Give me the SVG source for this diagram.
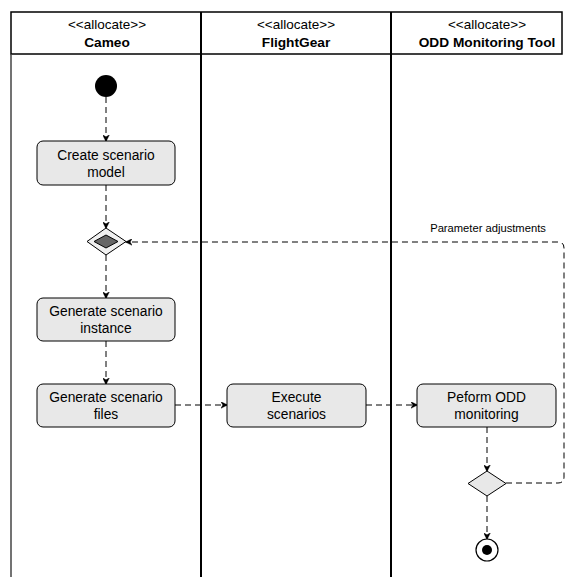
<svg xmlns="http://www.w3.org/2000/svg" width="571" height="577" viewBox="0 0 571 577">
  <style>
    .lane { stroke: #000; stroke-width: 2; fill: none; }
    .hdr { fill: #fff; stroke: #000; stroke-width: 1.5; }
    .stereo { font-family: "Liberation Sans", Arial, sans-serif; font-size: 13.5px; text-anchor: middle; fill: #000; }
    .name { font-family: "Liberation Sans", Arial, sans-serif; font-size: 13.7px; font-weight: bold; text-anchor: middle; fill: #000; }
    .act rect { fill: #e8e8e8; stroke: #000; stroke-width: 1; }
    .act text { font-family: "Liberation Sans", Arial, sans-serif; font-size: 13.8px; text-anchor: middle; fill: #000; }
    .flow { stroke: #000; stroke-width: 1; fill: none; stroke-dasharray: 6 4; marker-end: url(#arrow); }
    .lbl { font-family: "Liberation Sans", Arial, sans-serif; font-size: 11.2px; text-anchor: middle; fill: #000; }
  </style>
  <defs>
    <marker id="arrow" viewBox="0 0 10 10" refX="9" refY="5" markerWidth="7" markerHeight="7" orient="auto" markerUnits="userSpaceOnUse">
      <path d="M0,0 L10,5 L0,10 L3,5 Z" fill="#000" stroke="#000" stroke-width="0.5"/>
    </marker>
  </defs>
  <rect width="571" height="577" fill="#fff"/>

  <!-- swimlanes -->
  <g id="lanes">
    <rect class="hdr" x="11" y="12" width="551" height="42"/>
    <line class="lane" x1="201" y1="12" x2="201" y2="577"/>
    <line class="lane" x1="391" y1="12" x2="391" y2="577"/>
    <line x1="11" y1="54" x2="11" y2="577" stroke="#444" stroke-width="1.5"/>
    <text class="stereo" x="107" y="29">&lt;&lt;allocate&gt;&gt;</text>
    <text class="name" x="107" y="47">Cameo</text>
    <text class="stereo" x="296" y="29">&lt;&lt;allocate&gt;&gt;</text>
    <text class="name" x="296" y="47">FlightGear</text>
    <text class="stereo" x="487" y="29">&lt;&lt;allocate&gt;&gt;</text>
    <text class="name" x="487" y="47">ODD Monitoring Tool</text>
  </g>

  <!-- connectors -->
  <g id="connectors">
    <line class="flow" x1="106" y1="97" x2="106" y2="141"/>
    <line class="flow" x1="106" y1="185" x2="106" y2="228"/>
    <line class="flow" x1="106" y1="255" x2="106" y2="298"/>
    <line class="flow" x1="106" y1="341" x2="106" y2="384"/>
    <line class="flow" x1="175" y1="405" x2="227" y2="405"/>
    <line class="flow" x1="366" y1="405" x2="417" y2="405"/>
    <line class="flow" x1="487" y1="427" x2="487" y2="471"/>
    <line class="flow" x1="487" y1="496" x2="487" y2="539"/>
    <path class="flow" d="M506,483 L558,483 Q564,483 564,477 L564,248 Q564,242 558,242 L126,242"/>
    <text class="lbl" x="488" y="232">Parameter adjustments</text>
  </g>

  <!-- nodes -->
  <g id="start">
    <circle cx="106" cy="86" r="11" fill="#000"/>
  </g>
  <g id="create-model" class="act">
    <rect x="37" y="141" width="138" height="44" rx="6"/>
    <text x="106" y="159.5">Create scenario</text>
    <text x="106" y="176.5">model</text>
  </g>
  <g id="merge">
    <polygon points="106,228 126,241.5 106,255 87,241.5" fill="#f0f0f0" stroke="#000" stroke-width="1"/>
    <polygon points="106,235 118,241.5 106,248 94,241.5" fill="#666" stroke="#000" stroke-width="1"/>
  </g>
  <g id="gen-instance" class="act">
    <rect x="37" y="298" width="138" height="43" rx="6"/>
    <text x="106" y="316">Generate scenario</text>
    <text x="106" y="333">instance</text>
  </g>
  <g id="gen-files" class="act">
    <rect x="37" y="384" width="138" height="43" rx="6"/>
    <text x="106" y="402">Generate scenario</text>
    <text x="106" y="419">files</text>
  </g>
  <g id="execute" class="act">
    <rect x="227" y="384" width="139" height="43" rx="6"/>
    <text x="296.5" y="402">Execute</text>
    <text x="296.5" y="419">scenarios</text>
  </g>
  <g id="monitor" class="act">
    <rect x="417" y="384" width="139" height="43" rx="6"/>
    <text x="486.5" y="402">Peform ODD</text>
    <text x="486.5" y="419">monitoring</text>
  </g>
  <g id="decision">
    <polygon points="487,471 506,483.5 487,496 468,483.5" fill="#e8e8e8" stroke="#000" stroke-width="1"/>
  </g>
  <g id="end">
    <circle cx="487" cy="550" r="11" fill="#fff" stroke="#000" stroke-width="1.2"/>
    <circle cx="487" cy="550" r="5" fill="#000"/>
  </g>
</svg>
